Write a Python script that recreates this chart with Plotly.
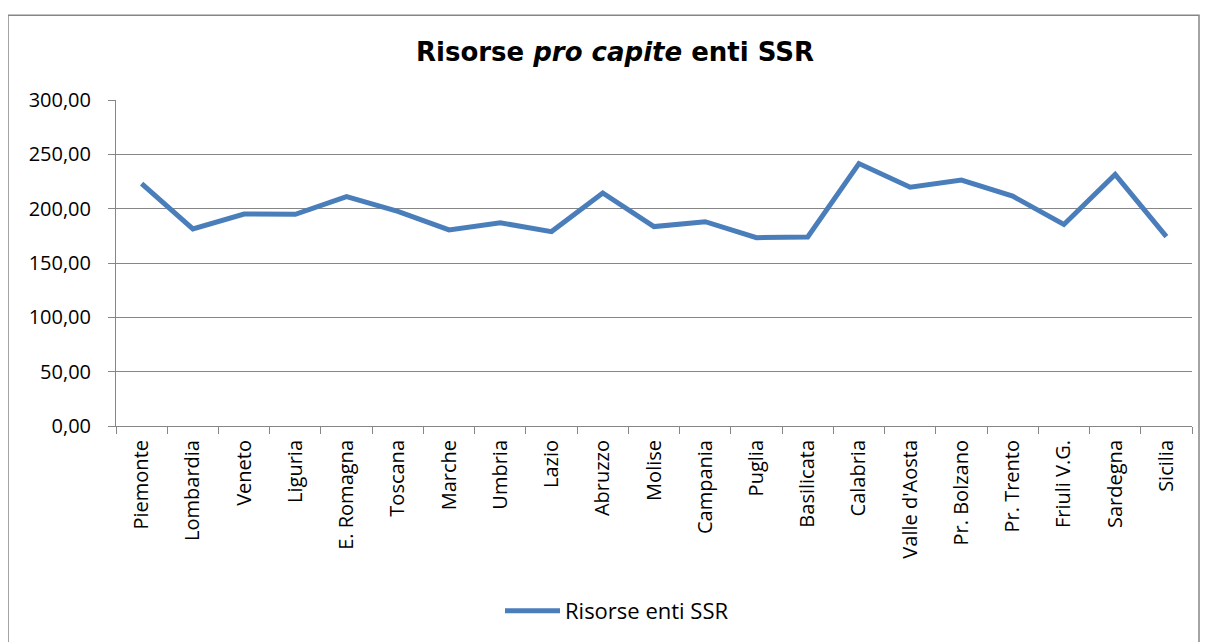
import plotly.graph_objects as go

regioni = ["Piemonte", "Lombardia", "Veneto", "Liguria", "E. Romagna", "Toscana",
           "Marche", "Umbria", "Lazio", "Abruzzo", "Molise", "Campania", "Puglia",
           "Basilicata", "Calabria", "Valle d'Aosta", "Pr. Bolzano", "Pr. Trento",
           "Friuli V.G.", "Sardegna", "Sicilia"]
risorse = [223.0, 181.4, 195.1, 194.8, 211.0, 197.5, 180.5, 187.0, 178.9, 214.4,
           183.5, 188.0, 173.3, 174.0, 241.5, 219.8, 226.3, 211.5, 185.5, 231.5, 174.2]
serie_nome = "Risorse enti SSR"
y_ticks = [0, 50, 100, 150, 200, 250, 300]

# page has an 8px body margin; work in page coordinates and convert
OFF = 8
W, H = 1210 - OFF, 642 - OFF
plot_l, plot_r, plot_t, plot_b = 116, 1192, 100, 427
L = plot_l - OFF
R = W - (plot_r - OFF)
T = plot_t - OFF
B = H - (plot_b - OFF)
pw, ph = W - L - R, H - T - B

def px(x):
    return (x - plot_l) / pw

def py(y):
    return (plot_b - y) / ph

grid = "#868686"

fig = go.Figure()
fig.add_trace(go.Scatter(
    x=regioni, y=risorse, mode="lines", name=serie_nome,
    line=dict(color="#4A7EBB", width=5), showlegend=True,
))

fig.update_layout(
    width=W, height=H,
    margin=dict(l=L, r=R, t=T, b=B),
    paper_bgcolor="white", plot_bgcolor="white",
    separators=",.",
    font=dict(family="Open Sans", size=20, color="black"),
    title=dict(
        text="<b>Risorse <i>pro capite</i> enti SSR</b>",
        font=dict(family="DejaVu Sans", size=26, color="black"),
        x=(615 - OFF) / W, xref="container", xanchor="center",
        y=1 - (52 - OFF) / H, yref="container", yanchor="middle",
    ),
    xaxis=dict(
        type="category", tickangle=-90, showgrid=False,
        showline=True, linecolor=grid, linewidth=1,
        ticks="outside", tickson="boundaries", ticklen=7, tickcolor=grid,
        ticklabelstandoff=5,
        tickfont=dict(family="Open Sans", size=20, color="black"),
        range=[-0.5, len(regioni) - 0.5],
    ),
    yaxis=dict(
        range=[0, 300], tickvals=y_ticks, tickformat=".2f",
        showgrid=True, gridcolor=grid, gridwidth=1,
        showline=True, linecolor=grid, linewidth=1,
        ticks="outside", ticklen=7, tickcolor=grid,
        ticklabelstandoff=13,
        zeroline=False,
        tickfont=dict(family="Open Sans", size=20, color="black"),
    ),
    showlegend=True,
    legend=dict(
        orientation="h", x=px(500), xanchor="left",
        y=py(611), yanchor="middle", itemwidth=55,
        font=dict(family="Open Sans", size=22, color="black"),
        bgcolor="rgba(0,0,0,0)",
    ),
    shapes=[dict(
        type="rect", xref="paper", yref="paper",
        x0=px(8), x1=px(1199), y0=py(660), y1=py(15),
        line=dict(color="#868686", width=1.5), fillcolor="rgba(0,0,0,0)",
        layer="below",
    )],
)

fig.write_html("out.html")
